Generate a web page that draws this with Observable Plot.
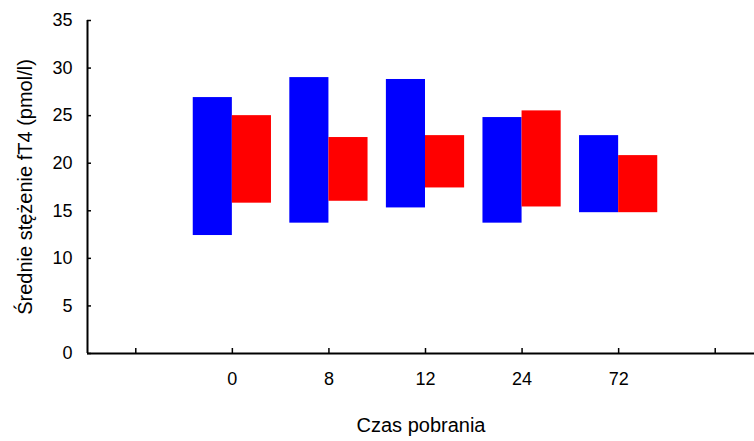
<!DOCTYPE html>
<html>
<head>
<meta charset="utf-8">
<script src="https://cdn.jsdelivr.net/npm/d3@7"></script>
<script src="https://cdn.jsdelivr.net/npm/@observablehq/plot@0.6"></script>
<style>
  html, body { margin: 0; padding: 0; background: #fff; }
</style>
</head>
<body>
<div id="chart"></div>
<script>
// Sampling times (hours) and the ranges of mean fT4 for the two groups
const categories = ["0", "8", "12", "24", "72"];
const blueLow  = [12.4, 13.7, 15.3, 13.7, 14.8];
const blueHigh = [26.9, 29.0, 28.8, 24.8, 22.9];
const redLow   = [15.8, 16.0, 17.4, 15.4, 14.8];
const redHigh  = [25.0, 22.7, 22.9, 25.5, 20.8];
const yTicks = [0, 5, 10, 15, 20, 25, 30, 35];

// One empty slot on each side of the sampling times
const slots = ["", ...categories, ""];
const slotIndex = d3.range(slots.length);
const xDomain = [-0.5, slots.length - 0.5];
const barWidth = 0.405;

const blue = categories.map((c, i) => ({pos: i + 1, low: blueLow[i], high: blueHigh[i]}));
const red  = categories.map((c, i) => ({pos: i + 1, low: redLow[i], high: redHigh[i]}));

const font = "'Liberation Sans', Arial, sans-serif";

const chart = Plot.plot({
  width: 754,
  height: 441,
  marginLeft: 87,
  marginRight: 0,
  marginTop: 20,
  marginBottom: 88,
  style: {fontFamily: font, fontSize: "18px", color: "#000", background: "#fff"},
  x: {domain: xDomain, range: [87, 763]},
  y: {domain: [0, 35]},
  marks: [
    Plot.rect(blue, {x1: d => d.pos - barWidth, x2: "pos", y1: "low", y2: "high", fill: "#0000ff"}),
    Plot.rect(red, {x1: "pos", x2: d => d.pos + barWidth, y1: "low", y2: "high", fill: "#ff0000"}),
    Plot.ruleY([0], {stroke: "#000", strokeWidth: 2}),
    Plot.ruleX([xDomain[0]], {y1: 0, y2: 35, stroke: "#000", strokeWidth: 2}),
    Plot.axisY(yTicks, {tickSize: -4, tickPadding: 19, strokeWidth: 1.5, label: null, fontSize: 18}),
    Plot.axisY([], {tickSize: 0, label: "Średnie stężenie fT4 (pmol/l)", labelAnchor: "center", labelArrow: "none", labelOffset: 70, fontSize: 20}),
    Plot.axisX(slotIndex, {tickSize: -5, tickPadding: 24, strokeWidth: 1.5, tickFormat: i => slots[i], label: null, fontSize: 18}),
    Plot.axisX([], {tickSize: 0, label: "Czas pobrania", labelAnchor: "center", labelArrow: "none", labelOffset: 78, fontSize: 20})
  ]
});

document.getElementById("chart").appendChild(chart);
</script>
</body>
</html>
